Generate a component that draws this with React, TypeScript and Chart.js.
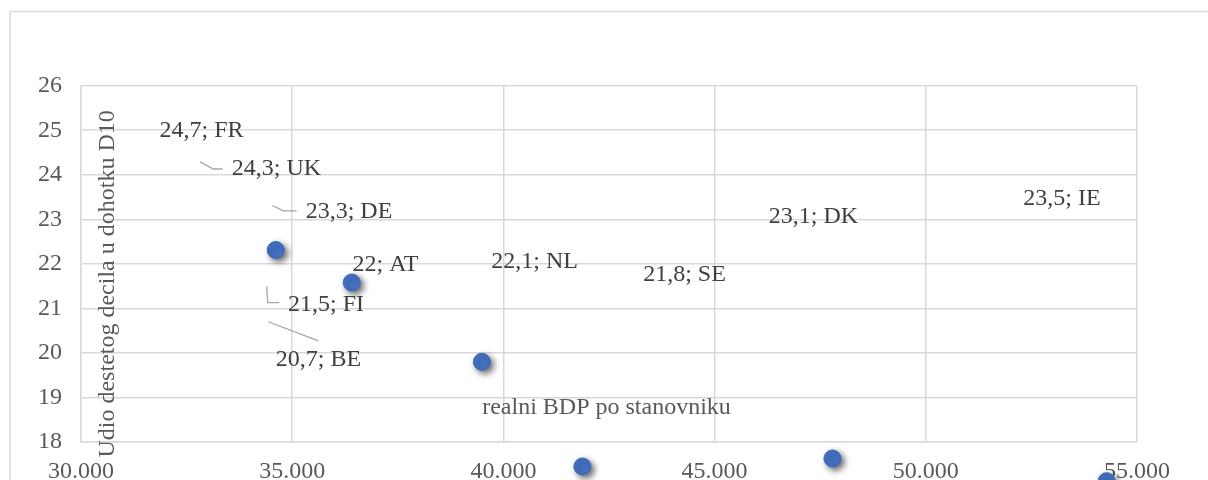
import React, { useEffect, useRef } from "react";
import { Chart, registerables } from "chart.js";

Chart.register(...registerables);

// Plotted markers (real GDP per capita, share of top decile)
const pointGdp = [34610, 36410, 39490, 41870, 47790, 54280];
const pointShare = [22.31, 21.58, 19.8, 17.45, 17.63, 17.12];

// Data labels (as they appear, detached from the markers)
const countries = ["FR", "UK", "DE", "AT", "NL", "SE", "DK", "IE", "FI", "BE"];
const labelValues = ["24,7", "24,3", "23,3", "22", "22,1", "21,8", "23,1", "23,5", "21,5", "20,7"];
const labelGdp = [32853, 34628, 36345, 37209, 40741, 44287, 47342, 53224, 35800, 35622];
const labelShare = [25.0, 24.13, 23.17, 21.97, 22.05, 21.75, 23.06, 23.47, 21.08, 19.84];

// Leader lines (data units): UK, DE, FI, BE
const leaderGdp = [
  [32817, 33132, 33355],
  [34529, 34789, 35107],
  [34396, 34420, 34695],
  [34434, 35618],
];
const leaderShare = [
  [24.29, 24.13, 24.13],
  [23.31, 23.19, 23.19],
  [21.49, 21.13, 21.13],
  [20.7, 20.27],
];

// Axis titles (placed inside the plot as in the original)
const xTitle = "realni BDP po stanovniku";
const xTitleAt = [42441, 18.76];
const yTitle = "Udio destetog decila u dohotku D10";
const yTitleAt = [30639, 21.55];

const xMin = 30000;
const xMax = 55000;
const xStep = 5000;
const yMin = 18;
const yMax = 26;
const yStep = 1;

const FONT = "'Liberation Serif', 'Times New Roman', serif";
const GRID = "#d9d9d9";

export default function App() {
  const ref = useRef<HTMLCanvasElement | null>(null);

  useEffect(() => {
    if (!ref.current) return;

    const shadowPlugin = {
      id: "pointShadow",
      beforeDatasetsDraw(chart: any) {
        const ctx = chart.ctx;
        ctx.save();
        ctx.shadowColor = "rgba(0,0,0,0.6)";
        ctx.shadowBlur = 6;
        ctx.shadowOffsetX = 3;
        ctx.shadowOffsetY = 3;
      },
      afterDatasetsDraw(chart: any) {
        const ctx = chart.ctx;
        // markers lying outside the plot area (Chart.js skips them by default)
        const area = chart.chartArea;
        const big = { left: -1e5, right: 1e5, top: -1e5, bottom: 1e5 };
        chart.getDatasetMeta(0).data.forEach((el: any) => {
          const out = el.x < area.left || el.x > area.right || el.y < area.top || el.y > area.bottom;
          if (out) el.draw(ctx, big);
        });
        ctx.restore();
      },
    };

    const framePlugin = {
      id: "frame",
      beforeDraw(chart: any) {
        const ctx = chart.ctx;
        ctx.save();
        ctx.fillStyle = "#ffffff";
        ctx.fillRect(0, 0, chart.width, chart.height);
        ctx.strokeStyle = GRID;
        ctx.lineWidth = 1.5;
        ctx.strokeRect(10, 11.5, chart.width + 20, chart.height + 40);
        ctx.restore();
      },
    };

    const labelPlugin = {
      id: "detachedLabels",
      afterDraw(chart: any) {
        const ctx = chart.ctx;
        const xs = chart.scales.x;
        const ys = chart.scales.y;
        ctx.save();
        // leader lines
        ctx.strokeStyle = "#a6a6a6";
        ctx.lineWidth = 1.3;
        leaderGdp.forEach((gx, i) => {
          ctx.beginPath();
          gx.forEach((g, j) => {
            const px = xs.getPixelForValue(g);
            const py = ys.getPixelForValue(leaderShare[i][j]);
            if (j === 0) ctx.moveTo(px, py);
            else ctx.lineTo(px, py);
          });
          ctx.stroke();
        });
        // data labels
        ctx.font = `24px ${FONT}`;
        ctx.fillStyle = "#404040";
        ctx.textAlign = "center";
        ctx.textBaseline = "middle";
        countries.forEach((c, i) => {
          ctx.fillText(
            `${labelValues[i]}; ${c}`,
            xs.getPixelForValue(labelGdp[i]),
            ys.getPixelForValue(labelShare[i])
          );
        });
        // axis titles
        ctx.fillStyle = "#595959";
        ctx.fillText(xTitle, xs.getPixelForValue(xTitleAt[0]), ys.getPixelForValue(xTitleAt[1]));
        ctx.translate(xs.getPixelForValue(yTitleAt[0]), ys.getPixelForValue(yTitleAt[1]));
        ctx.rotate(-Math.PI / 2);
        ctx.fillText(yTitle, 0, 0);
        ctx.restore();
      },
    };

    const chart = new Chart(ref.current, {
      type: "scatter",
      data: {
        datasets: [
          {
            label: "D10",
            data: pointGdp.map((g, i) => ({ x: g, y: pointShare[i] })),
            backgroundColor: "#4472c4",
            borderColor: "#3d68b5",
            borderWidth: 1,
            pointRadius: 8.5,
            pointHoverRadius: 8.5,
            clip: false as any,
          },
        ],
      },
      options: {
        animation: false,
        responsive: true,
        maintainAspectRatio: false,
        events: [],
        layout: { padding: { top: 85.7, right: 71, bottom: 0, left: 0 } },
        plugins: {
          legend: { display: false },
          tooltip: { enabled: false },
        },
        scales: {
          x: {
            type: "linear",
            min: xMin,
            max: xMax,
            z: 1,
            afterFit(scale: any) {
              scale.height = 38;
            },
            ticks: {
              stepSize: xStep,
              padding: 15,
              color: "#595959",
              font: { family: FONT, size: 24 },
              maxRotation: 0,
              callback: (v: any) => `${Math.round(Number(v) / 1000)}.000`,
            },
            grid: { color: GRID, lineWidth: 1.5, drawTicks: false },
            border: { display: true, color: GRID, width: 1.5 },
          },
          y: {
            type: "linear",
            min: yMin,
            max: yMax,
            afterFit(scale: any) {
              scale.width = 81;
            },
            ticks: {
              stepSize: yStep,
              padding: 19,
              color: "#595959",
              font: { family: FONT, size: 24 },
            },
            grid: { color: GRID, lineWidth: 1.5, drawTicks: false },
            border: { display: true, color: GRID, width: 1.5 },
          },
        },
      },
      plugins: [framePlugin, shadowPlugin, labelPlugin],
    });

    return () => chart.destroy();
  }, []);

  return (
    <div style={{ position: "absolute", left: 0, top: 0, width: 1208, height: 480 }}>
      <canvas ref={ref} />
    </div>
  );
}
